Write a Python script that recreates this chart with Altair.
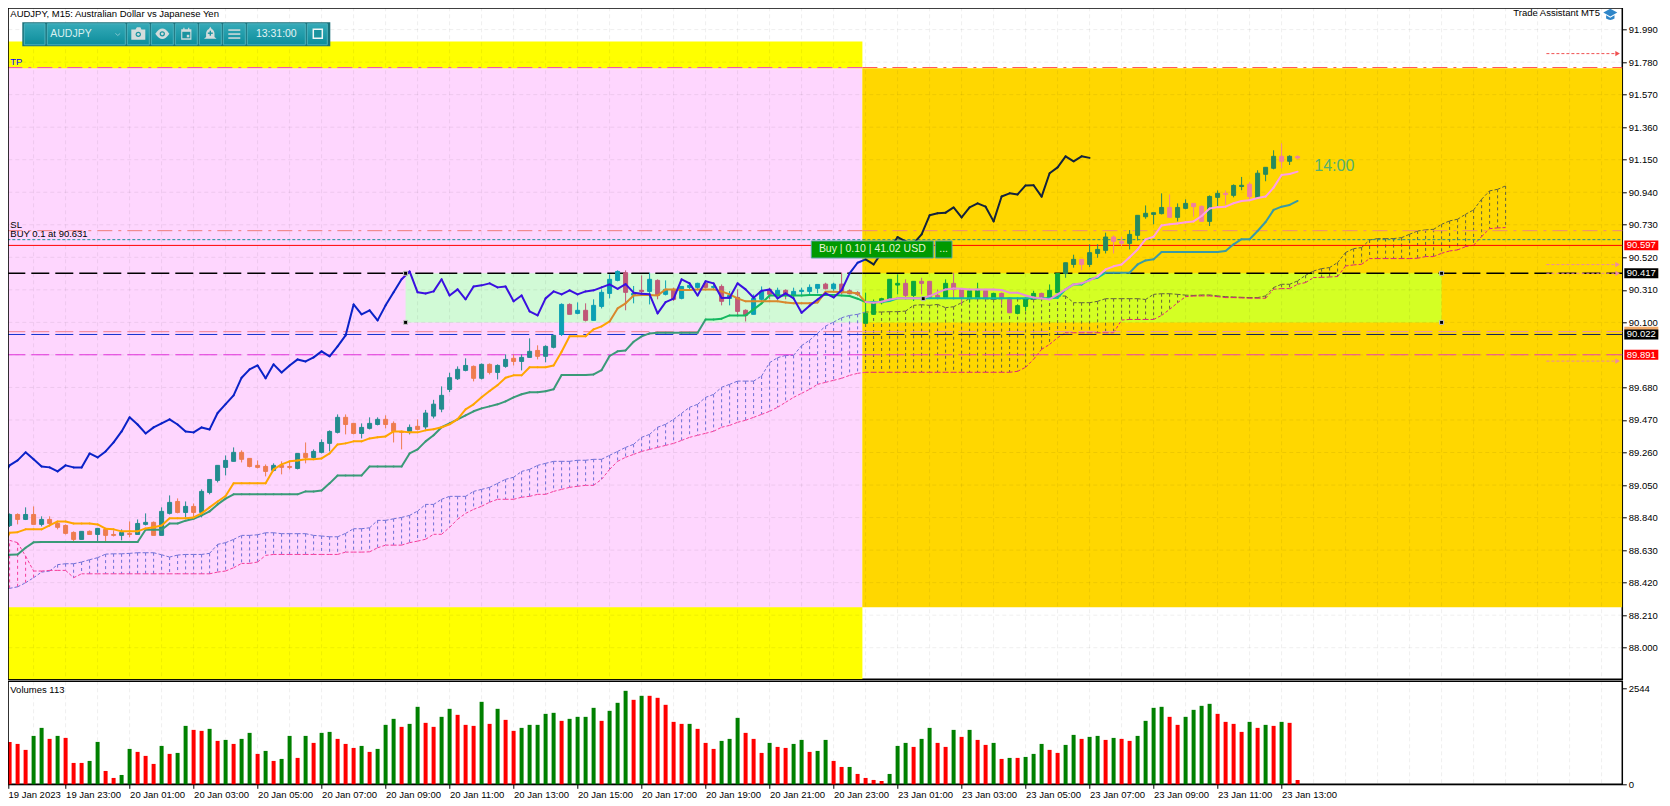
import altair as alt
import pandas as pd

# ---------- price data (M15 bars, bar index 0 = 19 Jan 2023 21:00) ----------
opens = [88.759,88.789,88.860,88.828,88.860,88.796,88.828,88.802,88.789,88.744,
88.699,88.751,88.731,88.764,88.731,88.725,88.738,88.731,88.796,88.809,
88.725,88.867,88.944,88.873,88.912,88.873,89.002,89.080,89.164,89.203,
89.261,89.222,89.177,89.170,89.145,89.177,89.170,89.157,89.254,89.228,
89.261,89.319,89.390,89.487,89.448,89.383,89.416,89.441,89.474,89.448,
89.396,89.396,89.429,89.425,89.495,89.540,89.667,89.736,89.790,89.816,
89.739,89.829,89.777,89.816,89.868,89.848,89.874,89.919,89.881,89.939,
90.023,90.216,90.158,90.178,90.113,90.203,90.287,90.371,90.421,90.276,
90.307,90.300,90.371,90.281,90.313,90.255,90.326,90.326,90.352,90.326,
90.332,90.255,90.261,90.178,90.152,90.249,90.313,90.274,90.307,90.274,
90.300,90.300,90.320,90.347,90.317,90.347,90.304,90.292,90.094,90.152,
90.227,90.248,90.341,90.352,90.274,90.365,90.365,90.274,90.261,90.352,
90.313,90.255,90.255,90.304,90.255,90.287,90.248,90.158,90.203,90.255,
90.287,90.255,90.292,90.416,90.474,90.507,90.474,90.545,90.565,90.651,
90.623,90.610,90.662,90.782,90.797,90.802,90.842,90.778,90.836,90.868,
90.849,90.752,90.907,90.933,90.920,90.977,90.992,90.906,91.056,91.095,
91.172,91.140,91.170]
highs = [88.802,88.867,88.867,88.906,88.912,88.848,88.848,88.815,88.796,88.751,
88.751,88.757,88.770,88.770,88.757,88.764,88.815,88.828,88.867,88.815,
88.906,88.983,88.964,88.944,88.931,89.022,89.086,89.177,89.241,89.293,
89.274,89.222,89.209,89.183,89.190,89.203,89.203,89.254,89.325,89.280,
89.345,89.403,89.506,89.506,89.448,89.448,89.487,89.487,89.500,89.461,
89.396,89.441,89.474,89.535,89.600,89.687,89.775,89.816,89.868,89.822,
89.835,89.835,89.829,89.893,89.893,89.893,89.997,89.952,89.952,90.020,
90.223,90.223,90.229,90.223,90.249,90.313,90.410,90.436,90.436,90.335,
90.403,90.421,90.378,90.371,90.324,90.335,90.352,90.356,90.356,90.345,
90.345,90.302,90.313,90.184,90.281,90.332,90.324,90.324,90.313,90.324,
90.324,90.345,90.345,90.356,90.356,90.421,90.313,90.302,90.292,90.248,
90.259,90.378,90.410,90.378,90.367,90.388,90.365,90.313,90.378,90.421,
90.313,90.317,90.356,90.309,90.292,90.292,90.259,90.216,90.259,90.304,
90.292,90.345,90.416,90.485,90.537,90.507,90.604,90.604,90.679,90.662,
90.653,90.696,90.791,90.855,90.808,90.933,90.926,90.868,90.894,90.868,
90.855,90.920,90.952,90.952,90.991,91.039,91.007,91.082,91.101,91.211,
91.256,91.179,91.179]
lows = [88.753,88.779,88.796,88.824,88.796,88.783,88.783,88.764,88.731,88.686,
88.699,88.731,88.680,88.686,88.718,88.693,88.712,88.731,88.789,88.725,
88.725,88.860,88.867,88.841,88.841,88.841,88.990,89.067,89.112,89.203,
89.196,89.164,89.157,89.106,89.138,89.119,89.151,89.151,89.190,89.222,
89.254,89.267,89.383,89.377,89.377,89.351,89.409,89.435,89.416,89.325,
89.280,89.377,89.403,89.410,89.480,89.520,89.650,89.728,89.784,89.719,
89.732,89.764,89.732,89.807,89.822,89.790,89.872,89.861,89.842,89.932,
90.012,90.152,90.152,90.106,90.113,90.190,90.255,90.365,90.178,90.223,
90.274,90.216,90.249,90.274,90.238,90.249,90.313,90.313,90.324,90.313,
90.210,90.210,90.145,90.106,90.152,90.238,90.249,90.249,90.249,90.249,
90.274,90.281,90.287,90.313,90.302,90.281,90.281,90.270,90.094,90.152,
90.216,90.248,90.281,90.248,90.238,90.281,90.257,90.248,90.259,90.248,
90.216,90.227,90.255,90.248,90.248,90.216,90.162,90.152,90.173,90.248,
90.248,90.248,90.255,90.388,90.453,90.436,90.457,90.517,90.545,90.545,
90.593,90.571,90.629,90.769,90.733,90.797,90.778,90.752,90.830,90.782,
90.752,90.722,90.842,90.862,90.907,90.953,90.884,90.906,91.011,91.088,
91.095,91.116,91.153]
closes = [88.796,88.860,88.828,88.860,88.796,88.828,88.802,88.777,88.738,88.699,
88.751,88.731,88.770,88.725,88.725,88.744,88.731,88.802,88.809,88.725,
88.880,88.938,88.873,88.912,88.873,89.009,89.086,89.177,89.209,89.261,
89.216,89.170,89.164,89.138,89.177,89.164,89.164,89.254,89.228,89.267,
89.325,89.396,89.487,89.441,89.383,89.422,89.448,89.474,89.441,89.396,
89.390,89.422,89.409,89.515,89.572,89.629,89.743,89.797,89.822,89.739,
89.829,89.777,89.822,89.861,89.848,89.874,89.913,89.881,89.945,90.016,
90.216,90.152,90.178,90.113,90.210,90.294,90.378,90.429,90.294,90.287,
90.300,90.378,90.274,90.313,90.249,90.332,90.339,90.352,90.326,90.332,
90.236,90.274,90.171,90.145,90.255,90.300,90.281,90.307,90.281,90.300,
90.307,90.326,90.345,90.317,90.347,90.292,90.285,90.281,90.158,90.231,
90.253,90.378,90.352,90.274,90.365,90.352,90.257,90.259,90.352,90.313,
90.259,90.304,90.313,90.255,90.287,90.255,90.162,90.208,90.248,90.287,
90.261,90.307,90.416,90.485,90.507,90.474,90.550,90.571,90.651,90.623,
90.610,90.668,90.791,90.804,90.808,90.842,90.778,90.842,90.868,90.847,
90.752,90.913,90.933,90.926,90.984,90.985,90.912,91.063,91.101,91.172,
91.140,91.172,91.162]

chikou = [89.086,89.177,89.209,89.261,
89.216,89.170,89.164,89.138,89.177,89.164,89.164,89.254,89.228,89.267,
89.325,89.396,89.487,89.441,89.383,89.422,89.448,89.474,89.441,89.396,
89.390,89.422,89.409,89.515,89.572,89.629,89.743,89.797,89.822,89.739,
89.829,89.777,89.822,89.861,89.848,89.874,89.913,89.881,89.945,90.016,
90.216,90.152,90.178,90.113,90.210,90.294,90.378,90.429,90.294,90.287,
90.300,90.378,90.274,90.313,90.249,90.332,90.339,90.352,90.326,90.332,
90.236,90.274,90.171,90.145,90.255,90.300,90.281,90.307,90.281,90.300,
90.307,90.326,90.345,90.317,90.347,90.292,90.285,90.281,90.158,90.231,
90.253,90.378,90.352,90.274,90.365,90.352,90.257,90.259,90.352,90.313,
90.259,90.304,90.313,90.255,90.287,90.255,90.162,90.208,90.248,90.287,
90.261,90.307,90.416,90.485,90.507,90.474,90.550,90.571,90.651,90.623,
90.610,90.668,90.791,90.804,90.808,90.842,90.778,90.842,90.868,90.847,
90.752,90.913,90.933,90.926,90.984,90.985,90.912,91.063,91.101,91.172,
91.140,91.172,91.162]

tenkan = [88.634,88.742,88.746,88.764,88.764,88.764,88.789,88.815,88.815,88.802,
88.802,88.802,88.796,88.768,88.764,88.751,88.751,88.751,88.770,88.777,
88.789,88.835,88.835,88.835,88.841,88.867,88.906,88.944,88.979,89.061,
89.061,89.061,89.061,89.061,89.151,89.183,89.203,89.209,89.216,89.216,
89.222,89.254,89.312,89.319,89.332,89.332,89.351,89.358,89.364,89.396,
89.396,89.390,89.390,89.403,89.410,89.423,89.442,89.475,89.539,89.571,
89.617,89.657,89.695,89.743,89.758,89.758,89.810,89.810,89.810,89.822,
89.911,90.010,90.010,90.010,90.055,90.074,90.106,90.190,90.223,90.274,
90.276,90.276,90.274,90.313,90.313,90.309,90.309,90.313,90.313,90.313,
90.300,90.281,90.255,90.236,90.236,90.236,90.236,90.236,90.229,90.223,
90.223,90.223,90.229,90.298,90.298,90.294,90.294,90.287,90.231,90.227,
90.233,90.248,90.255,90.255,90.255,90.255,90.270,90.292,90.313,90.319,
90.317,90.313,90.313,90.313,90.313,90.309,90.292,90.292,90.274,90.261,
90.255,90.248,90.281,90.313,90.345,90.352,90.371,90.397,90.442,90.462,
90.474,90.520,90.571,90.636,90.653,90.726,90.733,90.739,90.746,90.752,
90.787,90.835,90.844,90.847,90.869,90.884,90.888,90.903,90.912,90.970,
91.052,91.058,91.073]
kijun = [88.587,88.600,88.602,88.645,88.680,88.682,88.682,88.682,88.682,88.682,
88.682,88.682,88.682,88.682,88.682,88.682,88.682,88.682,88.761,88.761,
88.761,88.802,88.802,88.820,88.832,88.854,88.880,88.925,88.962,88.990,
88.990,88.990,88.990,88.990,88.990,88.990,88.990,88.990,89.009,89.009,
89.015,89.061,89.112,89.112,89.112,89.112,89.170,89.170,89.170,89.170,
89.170,89.254,89.280,89.332,89.371,89.423,89.448,89.474,89.500,89.526,
89.545,89.558,89.571,89.590,89.616,89.636,89.649,89.649,89.655,89.668,
89.760,89.760,89.760,89.760,89.764,89.792,89.883,89.913,89.919,89.975,
90.010,90.029,90.033,90.033,90.033,90.033,90.033,90.033,90.119,90.119,
90.124,90.145,90.145,90.145,90.184,90.223,90.274,90.274,90.274,90.274,
90.274,90.276,90.276,90.276,90.276,90.274,90.270,90.253,90.231,90.231,
90.231,90.238,90.255,90.255,90.255,90.255,90.255,90.255,90.255,90.255,
90.255,90.255,90.255,90.255,90.255,90.255,90.255,90.255,90.255,90.255,
90.255,90.255,90.259,90.313,90.345,90.345,90.378,90.388,90.421,90.421,
90.421,90.421,90.474,90.500,90.507,90.554,90.554,90.554,90.554,90.554,
90.555,90.555,90.555,90.561,90.604,90.637,90.637,90.690,90.748,90.826,
90.847,90.858,90.884]
span_a = [88.383,88.383,88.393,88.419,88.452,88.488,88.495,88.536,88.542,88.542,
88.553,88.568,88.581,88.604,88.606,88.606,88.609,88.613,88.613,88.613,
88.600,88.585,88.598,88.602,88.602,88.602,88.609,88.667,88.678,88.699,
88.725,88.725,88.729,88.742,88.742,88.736,88.736,88.736,88.736,88.725,
88.721,88.716,88.716,88.738,88.768,88.768,88.774,88.822,88.822,88.832,
88.841,88.854,88.882,88.925,88.925,88.958,88.977,88.977,88.977,89.009,
89.022,89.035,89.061,89.087,89.100,89.138,89.151,89.177,89.190,89.203,
89.203,89.203,89.210,89.210,89.216,89.216,89.242,89.267,89.293,89.313,
89.358,89.377,89.423,89.442,89.474,89.513,89.552,89.571,89.616,89.635,
89.681,89.700,89.721,89.721,89.721,89.754,89.840,89.872,89.887,89.887,
89.950,89.985,90.030,90.076,90.102,90.130,90.145,90.152,90.167,90.167,
90.167,90.169,90.169,90.173,90.210,90.214,90.210,90.216,90.195,90.201,
90.227,90.253,90.253,90.253,90.248,90.253,90.257,90.253,90.248,90.248,
90.255,90.264,90.270,90.270,90.227,90.227,90.227,90.236,90.253,90.253,
90.253,90.253,90.253,90.248,90.281,90.285,90.285,90.281,90.276,90.274,
90.277,90.277,90.271,90.266,90.264,90.262,90.260,90.260,90.271,90.325,
90.346,90.346,90.368,90.404,90.432,90.447,90.454,90.486,90.551,90.576,
90.583,90.632,90.641,90.641,90.641,90.647,90.669,90.690,90.697,90.701,
90.733,90.755,90.766,90.798,90.826,90.895,90.949,90.959,90.981]
span_b = [88.721,88.693,88.678,88.591,88.495,88.495,88.499,88.499,88.499,88.452,
88.477,88.477,88.477,88.477,88.477,88.477,88.477,88.477,88.477,88.477,
88.477,88.477,88.477,88.477,88.477,88.477,88.477,88.488,88.495,88.516,
88.544,88.544,88.553,88.596,88.602,88.602,88.602,88.602,88.602,88.602,
88.602,88.602,88.602,88.617,88.617,88.617,88.619,88.645,88.662,88.662,
88.662,88.678,88.688,88.700,88.732,88.732,88.777,88.829,88.867,88.893,
88.913,88.939,88.958,88.958,88.958,88.971,88.977,88.990,88.990,89.009,
89.022,89.035,89.042,89.048,89.048,89.087,89.151,89.203,89.229,89.248,
89.267,89.280,89.293,89.306,89.319,89.338,89.358,89.371,89.384,89.397,
89.423,89.435,89.455,89.468,89.487,89.506,89.526,89.552,89.584,89.616,
89.642,89.668,89.700,89.713,89.726,89.739,89.758,89.771,89.778,89.778,
89.778,89.778,89.778,89.778,89.778,89.778,89.778,89.778,89.778,89.778,
89.778,89.778,89.778,89.778,89.778,89.778,89.778,89.784,89.810,89.862,
89.926,89.958,90.001,90.033,90.033,90.033,90.033,90.033,90.033,90.033,
90.115,90.119,90.119,90.119,90.119,90.145,90.184,90.227,90.266,90.270,
90.271,90.271,90.266,90.260,90.260,90.258,90.256,90.256,90.256,90.314,
90.318,90.318,90.346,90.357,90.389,90.391,90.393,90.396,90.464,90.471,
90.475,90.512,90.512,90.512,90.512,90.512,90.512,90.514,90.525,90.525,
90.546,90.561,90.568,90.589,90.598,90.654,90.705,90.710,90.712]

volumes = [1254,1121,1068,910,1280,1492,1201,1280,1227,565,565,618,1121,353,168,247,
936,857,751,539,1015,804,830,1545,1439,1413,1466,1148,1174,1068,1201,1360,
804,883,618,671,1280,698,1280,1095,1360,1386,1201,1068,962,1015,857,936,
1572,1731,1519,1598,2049,1625,1519,1784,1996,1837,1572,1545,2181,1598,1996,1704,
1413,1492,1572,1572,1863,1890,1678,1731,1784,1784,2022,1678,1943,2155,2472,2234,
2340,2340,2287,2102,1651,1598,1598,1466,1095,936,1148,1201,1757,1360,1201,830,
1095,989,962,1068,1174,857,883,1174,618,459,459,274,168,115,88,274,
1015,1095,989,1201,1492,1095,989,1439,1254,1439,1174,1042,1095,671,698,698,
724,804,1068,910,830,1042,1307,1201,1254,1280,1174,1227,1201,1148,1280,1678,
2022,2049,1784,1572,1784,1969,2075,2128,1863,1651,1598,1386,1651,1492,1572,1545,
1651,1625,113]
volume_up = ("RRRRGGRGRRRGGRRGGRRRGRGGRRGRGRGGRGRGGRGRGGRRRGRGGGRGGRRGGRRRGRGRRGGGGGRGGGGRGGGRGRRRRRGRRRGGGRRRGRRGGRGGRRGRRRRGGGRGGRRGRGRRGRGRGGGRRGGRGGRGRRGGGGRRGGGGRRRRGRGRGRR")
price_ticks = [91.99,91.78,91.57,91.36,91.15,90.94,90.73,90.52,90.31,90.10,89.89,89.68,
               89.47,89.26,89.05,88.84,88.63,88.42,88.21,88.00]
axis_ticks = [p for p in price_ticks if p != 89.89]   # that label sits under the 89.891 price tag
time_labels = ["19 Jan 2023","19 Jan 23:00","20 Jan 01:00","20 Jan 03:00","20 Jan 05:00","20 Jan 07:00",
               "20 Jan 09:00","20 Jan 11:00","20 Jan 13:00","20 Jan 15:00","20 Jan 17:00","20 Jan 19:00",
               "20 Jan 21:00","20 Jan 23:00","23 Jan 01:00","23 Jan 03:00","23 Jan 05:00","23 Jan 07:00",
               "23 Jan 09:00","23 Jan 11:00","23 Jan 13:00"]
TP, SL, ENTRY, BID, HIGH_BOX, LOW_BOX, L1, L2, L3 = 91.745, 90.692, 90.634, 90.597, 90.417, 90.100, 90.040, 90.022, 89.891
for n, a in [("o",opens),("h",highs),("l",lows),("c",closes),("t",tenkan),("k",kijun),("v",volumes)]:
    assert len(a) == 163, (n, len(a))
assert len(span_a) == 189 and len(span_b) == 189 and len(chikou) == 137, (len(span_a), len(span_b), len(chikou))
assert len(volume_up) == 163, len(volume_up)

# ---------- scales ----------
FONT = "Liberation Sans"
W, H, VH = 1615, 672, 103
X0, X1 = 0.7125, 202.5875
Y0, Y1 = 87.796, 92.134
SPLIT = 107.6            # session boundary, in bars
BOX0, BOX1 = 50.5, 180   # rectangle, in bars
xs = alt.Scale(domain=[X0, X1], nice=False, zero=False, padding=0)
ys = alt.Scale(domain=[Y0, Y1], nice=False, zero=False, padding=0)
YAX = alt.Axis(orient="right", values=axis_ticks, format=".3f", title=None, grid=False, domain=False,
               tickSize=4, tickColor="black", labelColor="black", labelFont=FONT, labelFontSize=9.5,
               labelPadding=2, labelOverlap=False, labelFlush=False)
X = alt.X("x:Q", scale=xs, axis=None)
X2 = alt.X2("x2:Q")
Y = alt.Y("y:Q", scale=ys, axis=YAX)
Y2 = alt.Y2("y2:Q")
C = alt.Color("c:N", scale=None)
PX = alt.X("x:Q", scale=None, axis=None)
PX2 = alt.X2("x2:Q")
PY = alt.Y("y:Q", scale=None, axis=None)
PY2 = alt.Y2("y2:Q")

def region(i, p):
    gold = i >= SPLIT
    box = BOX0 <= i <= BOX1 and HIGH_BOX >= p >= LOW_BOX
    return ("g" if gold else "p") + ("b" if box else "")

def rects(rows):
    return alt.Chart(pd.DataFrame(rows)).mark_rect(clip=True).encode(x=X, x2=X2, y=Y, y2=Y2, color=C)

layers = []
# backgrounds
layers.append(rects([
    dict(x=X0, x2=SPLIT, y=91.914, y2=Y0, c="#ffff00"),
    dict(x=X0, x2=SPLIT, y=91.74, y2=88.261, c="#fed6fe"),
    dict(x=SPLIT, x2=X1, y=91.74, y2=88.261, c="#ffd700"),
    dict(x=BOX0, x2=SPLIT, y=HIGH_BOX, y2=LOW_BOX, c="#d1fad6"),
    dict(x=SPLIT, x2=BOX1, y=HIGH_BOX, y2=LOW_BOX, c="#d4ff24"),
]))
# grid
vgrid = [v for v in range(4, 204, 4)]
layers.append(alt.Chart(pd.DataFrame({"x": vgrid})).mark_rule(color="black", opacity=0.07, strokeDash=[4, 3]).encode(x=X))
layers.append(alt.Chart(pd.DataFrame({"y": price_ticks})).mark_rule(color="black", opacity=0.07, strokeDash=[4, 3]).encode(y=Y))

# cloud hatching and edges
hatch = []
for i, (a, b) in enumerate(zip(span_a, span_b)):
    c = ("#6f6fd6" if a >= b else "#f53d9b") if i < SPLIT else "#63633f"
    hatch.append(dict(x=i, y=a, y2=b, c=c))
layers.append(alt.Chart(pd.DataFrame(hatch)).mark_rule(strokeDash=[3, 3], strokeWidth=1, clip=True).encode(x=X, y=Y, y2=Y2, color=C))
edge = []
for i in range(len(span_a) - 1):
    edge.append(dict(x=i, x2=i + 1, y=span_a[i], y2=span_a[i + 1], c="#6f6fd6" if i < SPLIT else "#5f6040"))
    edge.append(dict(x=i, x2=i + 1, y=span_b[i], y2=span_b[i + 1], c="#f53d9b" if i < SPLIT else "#e0207c"))
layers.append(alt.Chart(pd.DataFrame(edge)).mark_rule(strokeDash=[3, 2], strokeWidth=1, clip=True).encode(x=X, x2=X2, y=Y, y2=Y2, color=C))

# horizontal levels
LONG = [18, 6]
levels = [
    (TP, "#f050b8", "#ff5050", [15, 6, 3, 6], 1),
    (SL, "#ee7a78", "#ee8a78", [15, 6, 3, 6], 1),
    (ENTRY, "#1e8f9a", "#1e8f8a", [3, 2], 1),
    (BID, "#ff0000", "#ff0000", None, 1),
    (HIGH_BOX, "#000000", "#000000", LONG, 1.5),
    (L1, "#f08090", "#ea90b8", LONG, 1),
    (L2, "#1030d0", "#101a60", LONG, 1),
    (L3, "#e030d8", "#ea40b0", LONG, 1),
]
for p, cl, cr, dash, w in levels:
    kw = dict(strokeWidth=w)
    if dash:
        kw["strokeDash"] = dash
    layers.append(alt.Chart(pd.DataFrame([dict(x=X0, x2=SPLIT, y=p, c=cl), dict(x=SPLIT, x2=X1, y=p, c=cr)]))
                  .mark_rule(**kw).encode(x=X, x2=X2, y=Y, color=C))

# candles
CANDLE = {"pu": "#238c8f", "pd": "#ee7c50", "pbu": "#0ba0b4", "pbd": "#c05878",
          "gbu": "#0aa83c", "gbd": "#c6608c", "gu": "#268a5e", "gd": "#f07fa0"}
cand = []
for i in range(1, 163):
    o, h, l, c = opens[i], highs[i], lows[i], closes[i]
    col = CANDLE[region(i, (o + c) / 2) + ("u" if c >= o else "d")]
    cand.append(dict(x=i, wy=h, wy2=l, y=max(o, c), y2=min(o, c), c=col))
cd = pd.DataFrame(cand)
layers.append(alt.Chart(cd).mark_rule(strokeWidth=1).encode(x=X, y=alt.Y("wy:Q", scale=ys, axis=YAX), y2="wy2:Q", color=C))
layers.append(alt.Chart(cd).mark_bar(size=4, strokeWidth=1).encode(x=X, y=Y, y2=Y2, color=C, stroke=alt.Stroke("c:N", scale=None)))

# indicator lines
def segs(vals, palette):
    out = []
    for i in range(len(vals) - 1):
        out.append(dict(x=i, x2=i + 1, y=vals[i], y2=vals[i + 1],
                        c=palette[region(i + 0.5, (vals[i] + vals[i + 1]) / 2)]))
    return out
layers.append(alt.Chart(pd.DataFrame(segs(kijun, {"p": "#3a9a78", "pb": "#14b860", "gb": "#10bda5", "g": "#3a9aa5"})))
              .mark_rule(strokeWidth=2, strokeCap="round", clip=True).encode(x=X, x2=X2, y=Y, y2=Y2, color=C))
layers.append(alt.Chart(pd.DataFrame(segs(tenkan, {"p": "#ffa500", "pb": "#d9882d", "gb": "#e78fd8", "g": "#ff9ee6"})))
              .mark_rule(strokeWidth=2, strokeCap="round", clip=True).encode(x=X, x2=X2, y=Y, y2=Y2, color=C))
layers.append(alt.Chart(pd.DataFrame(segs(chikou, {"p": "#0a22c8", "pb": "#3a10e0", "gb": "#14233c", "g": "#14233c"})))
              .mark_rule(strokeWidth=2, strokeCap="round", clip=True).encode(x=X, x2=X2, y=Y, y2=Y2, color=C))

# small right-hand arrows
arrow_rows = [dict(x=193.1, x2=202, y=91.835, c="#f05050"), dict(x=193.1, x2=202, y=90.473, c="#ee88a8"),
              dict(x=193.1, x2=202, y=90.417, c="#ee88a8"), dict(x=193.1, x2=202, y=89.850, c="#ee88a8")]
ad = pd.DataFrame(arrow_rows)
layers.append(alt.Chart(ad).mark_rule(strokeDash=[3, 2], strokeWidth=1).encode(x=X, x2=X2, y=Y, color=C))
layers.append(alt.Chart(ad).mark_point(shape="triangle-right", filled=True, size=28, opacity=1).encode(x=alt.X("x2:Q", scale=xs, axis=None), y=Y, color=C))

# anchor squares
sq = pd.DataFrame(dict(x=[BOX0, BOX0, BOX1, BOX1, 115.2], y=[HIGH_BOX, LOW_BOX, HIGH_BOX, LOW_BOX, 90.253]))
layers.append(alt.Chart(sq).mark_point(shape="square", filled=True, size=16, color="black", stroke="#c8c8c8", strokeWidth=1, opacity=1).encode(x=X, y=Y))

# price tags
TAGX0, TAGX1, TAGX = 202.84, 207.09, 204.96
tags = [(L1, "#f0a868", "#f0a868"), (BID, "#ff0000", "#ffffff"), (HIGH_BOX, "#000000", "#ffffff"),
        (L2, "#000000", "#ffffff"), (L3, "#ff0000", "#ffffff")]
for p, bg, fg in tags:
    layers.append(alt.Chart(pd.DataFrame([dict(x=TAGX0, x2=TAGX1, y=p + 0.032, y2=p - 0.032, c=bg)]))
                  .mark_rect().encode(x=X, x2=X2, y=Y, y2=Y2, color=C))
    if bg != "#f0a868":
        layers.append(alt.Chart(pd.DataFrame([dict(x=TAGX, y=p, t=f"{p:.3f}")]))
                      .mark_text(color=fg, font=FONT, fontSize=9.5).encode(x=X, y=Y, text="t:N"))

# ---------- page furniture, placed in screen pixels ----------
def px_rect(rows, **kw):
    return alt.Chart(pd.DataFrame(rows)).mark_rect(**kw).encode(x=PX, x2=PX2, y=PY, y2=PY2)
def label(text, x, y, size=9.5, color="black", align="left", font=FONT, weight="normal"):
    return alt.Chart(pd.DataFrame([dict(x=x, y=y, t=text)])).mark_text(
        font=font, fontSize=size, color=color, align=align, baseline="middle", fontWeight=weight
    ).encode(x=PX, y=PY, text="t:N")
O = 8
# top and left frame, which the page margin would otherwise trim
layers.append(px_rect([dict(x=0, x2=W, y=0, y2=1.5), dict(x=0, x2=1.5, y=0, y2=H)], color="black"))
layers.append(label("AUDJPY, M15:  Australian Dollar vs Japanese Yen", 3, 7))
layers.append(label("TP", 3, 62.7 - O, color="#0000ff"))
layers.append(label("SL", 3, 225.7 - O))
layers.append(label("BUY 0.1 at 90.631", 3, 234.7 - O))
layers.append(label("14:00", 1315 - O, 167 - O, size=16, color="#54b070"))
layers.append(label("Trade Assistant MT5", 1514 - O, 13.7 - O))
cap = "M-1,-0.25 L0,-0.8 L1,-0.25 L0,0.3 Z M-0.6,0.15 L0,0.5 L0.6,0.15 L0.6,0.6 Q0,1 -0.6,0.6 Z"
layers.append(alt.Chart(pd.DataFrame([dict(x=1611 - O, y=15 - O)])).mark_point(
    shape=cap, filled=True, color="#2f86c8", size=196, opacity=1).encode(x=PX, y=PY))

# toolbar
grad = alt.Gradient(gradient="linear", stops=[alt.GradientStop(color="#35aab8", offset=0), alt.GradientStop(color="#0d8d9b", offset=1)],
                    x1=0, x2=0, y1=0, y2=1)
layers.append(px_rect([dict(x=23 - O, x2=331 - O, y=23 - O, y2=47 - O)], color="#1a6f78"))
btns = [(25, 45.7), (48, 126), (128, 150), (152, 174), (176, 198), (200, 222), (224, 246), (248, 306), (308, 328)]
for a, b in btns:
    layers.append(px_rect([dict(x=a - O, x2=b - O, y=24.5 - O, y2=45.5 - O)], color=grad, stroke="#4db4c0", strokeWidth=1))
layers.append(label("AUDJPY", 51 - O, 34.5 - O, size=10.5, color="#d8f0f0"))
layers.append(label("13:31:00", 277 - O, 34.5 - O, size=10.5, color="#e4f4f4", align="center"))
layers.append(alt.Chart(pd.DataFrame([dict(x=118.5 - O, y=35 - O)])).mark_point(shape="M-0.8,-0.3 L0,0.4 L0.8,-0.3", size=36, color="#7fc4cc", opacity=1, strokeWidth=1).encode(x=PX, y=PY))
ICON = "#d4dcdc"
icons = [
    (139, "M-1,-0.6 L-0.4,-0.6 L-0.2,-0.95 L0.3,-0.95 L0.45,-0.6 L1,-0.6 L1,0.85 L-1,0.85 Z", 196),
    (163, "M-1,0 Q-0.5,-0.75 0,-0.75 Q0.5,-0.75 1,0 Q0.5,0.75 0,0.75 Q-0.5,0.75 -1,0 Z", 196),
    (187, "M-0.85,-0.75 L-0.5,-0.75 L-0.5,-1 L-0.3,-1 L-0.3,-0.75 L0.3,-0.75 L0.3,-1 L0.5,-1 L0.5,-0.75 L0.85,-0.75 L0.85,1 L-0.85,1 Z", 144),
    (211, "M0,-1 L0.2,-0.7 Q0.6,-0.5 0.6,0 L0.6,0.45 L0.9,0.7 L-0.9,0.7 L-0.6,0.45 L-0.6,0 Q-0.6,-0.5 -0.2,-0.7 Z", 196),
]
for cx, path, size in icons:
    layers.append(alt.Chart(pd.DataFrame([dict(x=cx - O, y=34.5 - O)])).mark_point(shape=path, filled=True, color=ICON, size=size, opacity=1).encode(x=PX, y=PY))
layers.append(alt.Chart(pd.DataFrame([dict(x=139 - O, y=35 - O), dict(x=163 - O, y=34.5 - O)])).mark_point(shape="circle", filled=True, color="#1a939f", size=28, opacity=1).encode(x=PX, y=PY))
layers.append(alt.Chart(pd.DataFrame([dict(x=139 - O, y=35 - O), dict(x=163 - O, y=34.5 - O)])).mark_point(shape="circle", filled=True, color=ICON, size=8, opacity=1).encode(x=PX, y=PY))
layers.append(px_rect([dict(x=183 - O, x2=191 - O, y=32.5 - O, y2=39 - O)], color="#1a939f"))
layers.append(px_rect([dict(x=187.5 - O, x2=190 - O, y=35.5 - O, y2=38 - O)], color=ICON))
layers.append(px_rect([dict(x=208.5 - O, x2=213.5 - O, y=33.2 - O, y2=34.6 - O), dict(x=210.3 - O, x2=211.7 - O, y=31.4 - O, y2=36.4 - O)], color="#1a939f"))
layers.append(px_rect([dict(x=229 - O, x2=241 - O, y=y - O, y2=y + 1.5 - O)  for y in (30, 34, 38)], color=ICON))
layers.append(px_rect([dict(x=314 - O, x2=323 - O, y=30 - O, y2=39 - O)], color="#1a939f", stroke="#f0f6f6", strokeWidth=1.5))

# trade button
layers.append(px_rect([dict(x=812 - O, x2=934 - O, y=241.7 - O, y2=258.7 - O), dict(x=936 - O, x2=952.7 - O, y=241.7 - O, y2=258.7 - O)],
                      color="#009a00", stroke="#5aa6a6", strokeWidth=1))
layers.append(label("Buy | 0.10 | 41.02 USD", 873 - O, 250.2 - O, size=10.5, color="#e8f6d8", align="center"))
layers.append(label("...", 944.3 - O, 250.2 - O, size=10.5, color="#e8f6d8", align="center"))

main = alt.layer(*layers).properties(width=W, height=H)

# ---------- volumes ----------
vd = pd.DataFrame(dict(x=range(163), v=volumes, c=["#008000" if f == "G" else "#ff0000" for f in volume_up]))
vd = vd[vd.x >= 1]
label_expr = "[" + ",".join("'%s'" % t for t in time_labels) + "][round(datum.value/8)]"
vy = alt.Scale(domain=[0, 2724], nice=False, zero=True, padding=0)
time_ticks = [0.8] + [8 * k for k in range(1, len(time_labels))]
VTX = alt.Axis(orient="bottom", values=time_ticks, labelExpr=label_expr, title=None, grid=False,
               domainColor="black", tickColor="black", tickSize=4, labelColor="black", labelFont=FONT, labelFontSize=9.5,
               labelAlign="left", labelPadding=1, labelOverlap=False, labelFlush=False, labelBaseline="top")
VVY = alt.Axis(orient="right", values=[0, 2544], format="d", title=None, grid=False, domain=False,
               tickSize=4, tickColor="black", labelColor="black", labelFont=FONT, labelFontSize=9.5, labelPadding=2)
VX = alt.X("x:Q", scale=xs, axis=VTX)
vgrid_l = alt.Chart(pd.DataFrame({"x": vgrid})).mark_rule(color="black", opacity=0.07, strokeDash=[4, 3]).encode(x=VX)
bars = alt.Chart(vd).mark_bar(size=4).encode(x=VX, y=alt.Y("v:Q", scale=vy, axis=VVY), color=C)
vtitle = label("Volumes 113", 3, 692 - 683, size=9.5)
vleft = px_rect([dict(x=0, x2=1.5, y=0, y2=VH)], color="black")
vol = alt.layer(vgrid_l, bars, vleft, vtitle).properties(width=W, height=VH)

chart = alt.vconcat(main, vol, spacing=-2).properties(
    padding={"left": -2.7, "top": -2.7, "right": 0, "bottom": 0}, background="white"
).configure_view(stroke="black", strokeWidth=1.5)
chart.save("out.html", embed_options={"renderer": "svg", "actions": False})
